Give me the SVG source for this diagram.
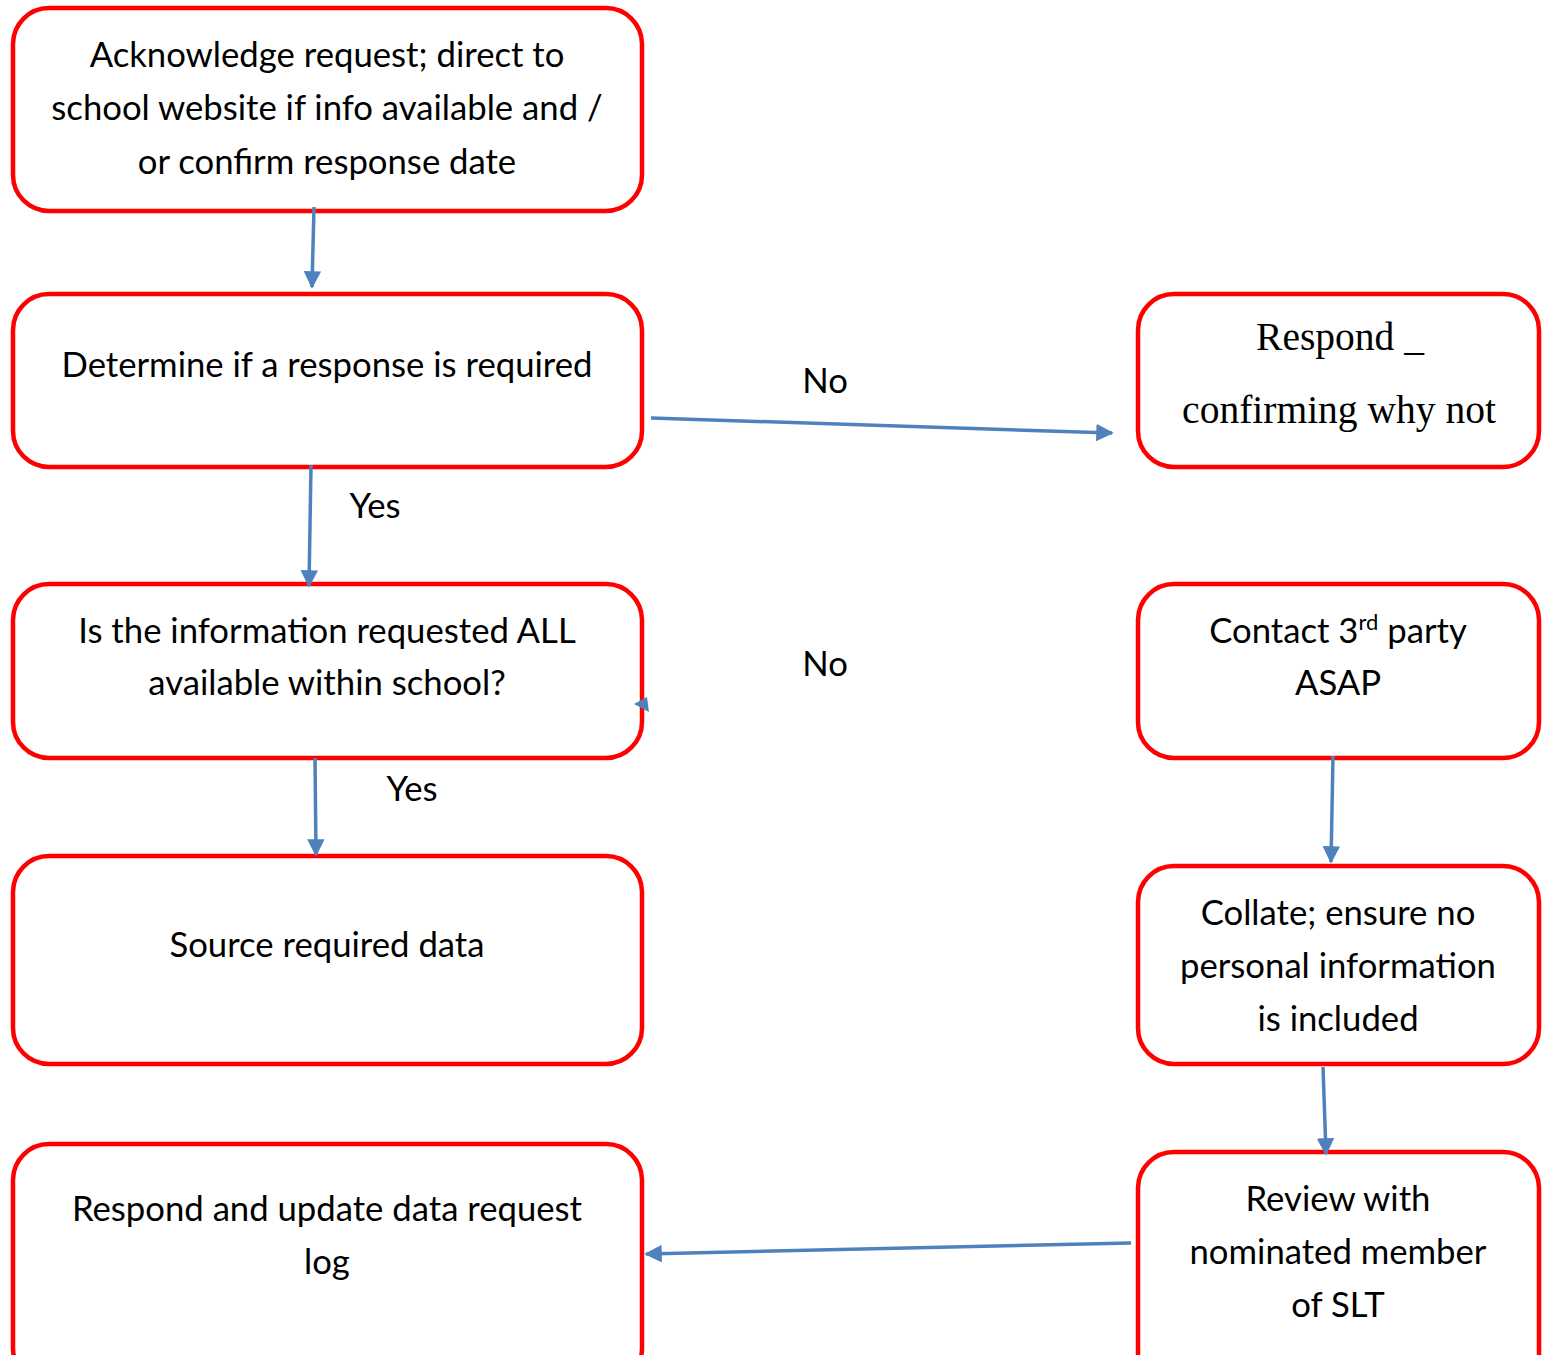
<svg xmlns="http://www.w3.org/2000/svg" width="1550" height="1355" viewBox="0 0 1550 1355">
<defs>
<style>
.box{fill:#fff;stroke:#ff0000;stroke-width:4.5}
.t{font-family:Lato,"Liberation Sans",sans-serif;font-size:34.7px;fill:#000;text-anchor:middle}
.s{font-family:"Liberation Serif",serif;font-size:39.5px;fill:#000;text-anchor:middle}
.c{stroke:#4f81bd;stroke-width:3.5;fill:none;marker-end:url(#ah)}
</style>
<marker id="ah" markerWidth="5" markerHeight="5" refX="4.5" refY="2.5" orient="auto" markerUnits="strokeWidth">
<path d="M0,0 L5,2.5 L0,5 z" fill="#4f81bd"/>
</marker>
</defs>
<rect width="1550" height="1355" fill="#fff"/>
<g id="n1"><rect class="box" x="13" y="8" width="629" height="203" rx="36"/>
<text class="t" x="327" y="67">Acknowledge request; direct to</text>
<text class="t" x="327" y="120">school website if info available and /</text>
<text class="t" x="327" y="174">or confirm response date</text></g>
<g id="n2"><rect class="box" x="13" y="294" width="629" height="173" rx="36"/>
<text class="t" x="327" y="377">Determine if a response is required</text></g>
<g id="n3"><rect class="box" x="13" y="584" width="629" height="174" rx="36"/>
<text class="t" x="327" y="643">Is the information requested ALL</text>
<text class="t" x="327" y="695">available within school?</text></g>
<g id="n4"><rect class="box" x="13" y="856" width="629" height="208" rx="36"/>
<text class="t" x="327" y="957">Source required data</text></g>
<g id="n5"><rect class="box" x="13" y="1144" width="629" height="240" rx="36"/>
<text class="t" x="327" y="1221">Respond and update data request</text>
<text class="t" x="327" y="1274">log</text></g>
<g id="r1"><rect class="box" x="1138" y="294" width="401" height="173" rx="36"/>
<text class="s" x="1340" y="350">Respond _</text>
<text class="s" x="1339" y="423">confirming why not</text></g>
<g id="r2"><rect class="box" x="1138" y="584" width="401" height="174" rx="36"/>
<text class="t" x="1338" y="643">Contact 3<tspan font-size="22" dy="-13">rd</tspan><tspan dy="13"> party</tspan></text>
<text class="t" x="1338" y="695">ASAP</text></g>
<g id="r3"><rect class="box" x="1138" y="866" width="401" height="198" rx="36"/>
<text class="t" x="1338" y="925">Collate; ensure no</text>
<text class="t" x="1338" y="978">personal information</text>
<text class="t" x="1338" y="1031">is included</text></g>
<g id="r4"><rect class="box" x="1138" y="1152" width="401" height="240" rx="36"/>
<text class="t" x="1338" y="1211">Review with</text>
<text class="t" x="1338" y="1264">nominated member</text>
<text class="t" x="1338" y="1317">of SLT</text></g>
<g id="connectors">
<path class="c" d="M314,207 L312,287"/>
<path class="c" d="M651,418 L1112,433"/>
<path class="c" d="M311,465 L309,586"/>
<polygon points="634,704 647,697 649,712" fill="#4f81bd"/>
<path class="c" d="M315,758 L316,855"/>
<path class="c" d="M1333,756 L1331,862"/>
<path class="c" d="M1323,1067 L1326,1154"/>
<path class="c" d="M1131,1243 L646,1254"/>
</g>
<g id="labels">
<text class="t" x="825" y="393">No</text>
<text class="t" x="375" y="518">Yes</text>
<text class="t" x="825" y="676">No</text>
<text class="t" x="412" y="801">Yes</text>
</g>
</svg>
